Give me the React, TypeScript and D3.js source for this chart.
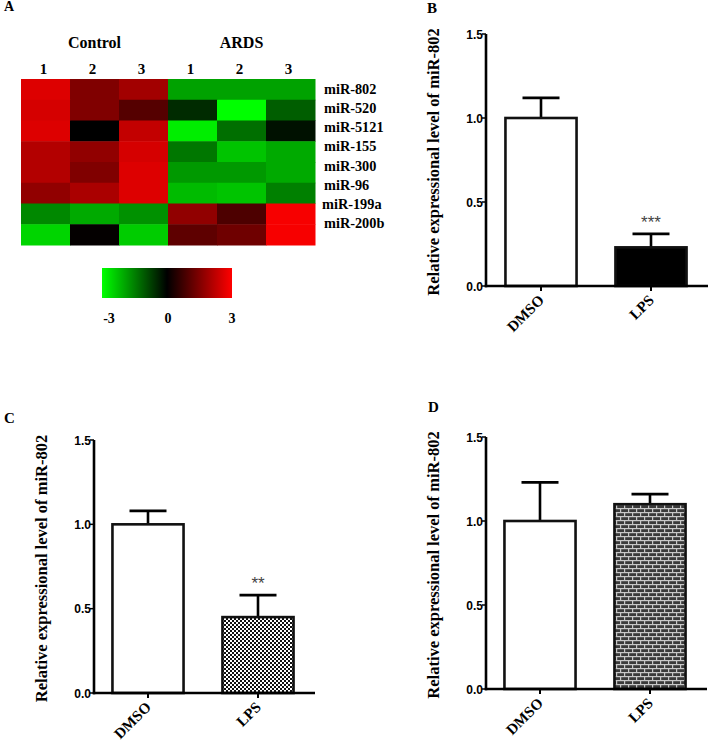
import React from "react";
import * as d3 from "d3";

const heatCols = ["1", "2", "3", "1", "2", "3"];
const heatGroups = ["Control", "ARDS"];
const heatRows = ["miR-802", "miR-520", "miR-5121", "miR-155", "miR-300", "miR-96", "miR-199a", "miR-200b"];
const heatValues: number[][] = [
  [2.6, 1.5, 1.9, -1.9, -1.9, -1.9],
  [2.5, 1.5, 1.0, -0.5, -3.0, -1.1],
  [2.6, 0.0, 2.3, -2.8, -1.3, -0.2],
  [2.1, 1.7, 2.5, -1.4, -2.3, -2.0],
  [2.1, 1.5, 2.6, -1.8, -1.8, -2.0],
  [1.7, 2.0, 2.6, -2.2, -2.3, -1.5],
  [-1.6, -2.0, -1.7, 1.7, 0.9, 2.9],
  [-2.5, 0.05, -2.4, 1.1, 1.3, 2.9],
];
const legendTicks = [-3, 0, 3];

const barCats = ["DMSO", "LPS"];
const bMeans = [1.0, 0.23];
const bErrs = [0.12, 0.08];
const cMeans = [1.0, 0.45];
const cErrs = [0.08, 0.13];
const dMeans = [1.0, 1.1];
const dErrs = [0.23, 0.06];
const yTicks = [0, 0.5, 1.0, 1.5];
const yTitle = "Relative expressional level of miR-802";

const serif = "'Liberation Serif', 'Times New Roman', serif";
const sans = "'Liberation Sans', Arial, sans-serif";

const heatColor = d3
  .scaleLinear<string>()
  .domain([-3, 0, 3])
  .range(["#00ff00", "#000000", "#ff0000"])
  .clamp(true);

function Heatmap() {
  const x = d3.scaleBand<number>().domain(d3.range(6)).range([21, 315]);
  const y = d3.scaleBand<string>().domain(heatRows).range([79, 245]);
  const labelY = d3.scalePoint<string>().domain(heatRows).range([89, 223]);
  const lx = d3.scaleLinear().domain([-3, 3]).range([102, 232]);
  return (
    <g>
      <text x={4} y={11} fontFamily={serif} fontWeight="bold" fontSize={14}>A</text>
      {heatGroups.map((g, gi) => (
        <text key={g} x={(x(gi * 3)! + x(gi * 3 + 2)! + x.bandwidth()) / 2} y={48}
          textAnchor="middle" fontFamily={serif} fontWeight="bold" fontSize={16}>{g}</text>
      ))}
      {heatCols.map((c, i) => (
        <text key={i} x={x(i)! + x.bandwidth() / 2 - 2} y={74} textAnchor="middle"
          fontFamily={serif} fontWeight="bold" fontSize={15}>{c}</text>
      ))}
      {heatRows.map((r, ri) =>
        heatValues[ri].map((v, ci) => (
          <rect key={r + ci} x={x(ci)} y={y(r)} width={x.bandwidth() + 0.5}
            height={y.bandwidth() + 0.5} fill={heatColor(v)} />
        ))
      )}
      {heatRows.map((r) => (
        <text key={r} x={r === "miR-199a" ? 322 : 324} y={labelY(r)! + 5} fontFamily={serif}
          fontWeight="bold" fontSize={14.3}>{r}</text>
      ))}
      <defs>
        <linearGradient id="legGrad" x1="0" x2="1" y1="0" y2="0">
          <stop offset="0%" stopColor={heatColor(-3)} />
          <stop offset="50%" stopColor={heatColor(0)} />
          <stop offset="100%" stopColor={heatColor(3)} />
        </linearGradient>
      </defs>
      <rect x={lx(-3)} y={268} width={lx(3) - lx(-3)} height={30} fill="url(#legGrad)" />
      {legendTicks.map((t) => (
        <text key={t} x={lx(t) + (t === -3 ? 7 : t === 0 ? 1 : 0)} y={323} textAnchor="middle"
          fontFamily={serif} fontWeight="bold" fontSize={14}>{t}</text>
      ))}
    </g>
  );
}

type PanelProps = {
  label: string;
  labelX: number;
  labelY: number;
  axisX: number;
  y0: number;
  y15: number;
  xStart: number;
  xEnd: number;
  titleX: number;
  means: number[];
  errs: number[];
  fills: string[];
  stars?: string;
};

function BarPanel(p: PanelProps) {
  const y = d3.scaleLinear().domain([0, 1.5]).range([p.y0, p.y15]);
  const x = d3.scaleBand<string>().domain(barCats).range([p.xStart, p.xEnd])
    .paddingInner(0.33).paddingOuter(0.165);
  const bw = x.bandwidth();
  const sw = 2.6;
  return (
    <g>
      <text x={p.labelX} y={p.labelY} fontFamily={serif} fontWeight="bold" fontSize={15}>{p.label}</text>
      <text transform={`translate(${p.titleX},${(p.y0 + p.y15) / 2 + 2}) rotate(-90)`}
        textAnchor="middle" fontFamily={serif} fontWeight="bold" fontSize={16.5}>{yTitle}</text>
      {barCats.map((c, i) => {
        const cx = x(c)! + bw / 2;
        const top = y(p.means[i]);
        const et = y(p.means[i] + p.errs[i]);
        return (
          <g key={c}>
            <line x1={cx} x2={cx} y1={top} y2={et} stroke="#000" strokeWidth={sw} />
            <line x1={cx - 18.5} x2={cx + 18.5} y1={et} y2={et} stroke="#000" strokeWidth={sw} />
            <rect x={x(c)! + sw / 2} y={top} width={bw - sw} height={p.y0 - top}
              fill={p.fills[i]} stroke="#111" strokeWidth={sw} />
          </g>
        );
      })}
      {p.stars && (
        <text x={x("LPS")! + bw / 2} y={y(p.means[1] + p.errs[1]) - 6} textAnchor="middle"
          fontFamily={sans} fontSize={17} fill="#444">{p.stars}</text>
      )}
      <line x1={p.axisX} x2={p.axisX} y1={p.y0 + 1.3} y2={p.y15} stroke="#000" strokeWidth={sw} />
      <line x1={p.axisX - 1.3} x2={p.xEnd + 2} y1={p.y0} y2={p.y0} stroke="#000" strokeWidth={sw} />
      {yTicks.map((t) => (
        <g key={t}>
          <line x1={p.axisX - 4} x2={p.axisX} y1={y(t)} y2={y(t)} stroke="#000" strokeWidth={1.5} />
          <text x={p.axisX - 3} y={y(t) + 4.5} textAnchor="end" fontFamily={sans}
            fontWeight="bold" fontSize={12}>{t.toFixed(1)}</text>
        </g>
      ))}
      {barCats.map((c) => {
        const cx = x(c)! + bw / 2;
        return (
          <g key={c}>
            <line x1={cx} x2={cx} y1={p.y0} y2={p.y0 + 5} stroke="#000" strokeWidth={2} />
            <text transform={`translate(${cx + 4},${p.y0 + 15}) rotate(-45)`} textAnchor="end"
              fontFamily={serif} fontWeight="bold" fontSize={15}>{c}</text>
          </g>
        );
      })}
    </g>
  );
}

export default function App() {
  return (
    <svg width={708} height={749} style={{ position: "absolute", left: 0, top: 0, background: "#fff" }}>
      <defs>
        <pattern id="checker" width={4} height={4} patternUnits="userSpaceOnUse">
          <rect width={4} height={4} fill="#fff" />
          <rect width={2} height={2} fill="#111" />
          <rect x={2} y={2} width={2} height={2} fill="#111" />
        </pattern>
        <pattern id="brick" width={8} height={8} patternUnits="userSpaceOnUse">
          <rect width={8} height={8} fill="#3a3a3a" />
          <rect y={0} width={8} height={1.2} fill="#c8c8c8" />
          <rect y={4} width={8} height={1.2} fill="#c8c8c8" />
          <rect x={0} y={0} width={1.2} height={4} fill="#c8c8c8" />
          <rect x={4} y={4} width={1.2} height={4} fill="#c8c8c8" />
        </pattern>
      </defs>
      <rect width={708} height={749} fill="#fff" />
      <Heatmap />
      <BarPanel label="B" labelX={427} labelY={13} axisX={486} y0={286} y15={34}
        xStart={486} xEnd={706} titleX={439} means={bMeans} errs={bErrs}
        fills={["#fff", "#000"]} stars="***" />
      <BarPanel label="C" labelX={4} labelY={423} axisX={94} y0={693} y15={440}
        xStart={93} xEnd={313} titleX={47} means={cMeans} errs={cErrs}
        fills={["#fff", "url(#checker)"]} stars="**" />
      <BarPanel label="D" labelX={428} labelY={412} axisX={486} y0={689} y15={437}
        xStart={485} xEnd={705} titleX={439} means={dMeans} errs={dErrs}
        fills={["#fff", "url(#brick)"]} />
    </svg>
  );
}
